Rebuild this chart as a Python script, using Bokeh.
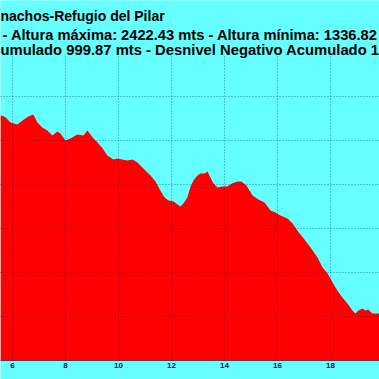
from bokeh.plotting import figure
from bokeh.models import Range1d, Label, Grid, SingleIntervalTicker, ColumnDataSource, BoxAnnotation
from bokeh.embed import file_html
from bokeh.resources import INLINE

# Distance (km) and elevation (m) read from the visible part of the profile
km = [5.55, 5.74, 5.93, 6.19, 6.38, 6.60, 6.79, 6.94, 7.13, 7.32, 7.51, 7.70, 7.81,
      8.00, 8.19, 8.45, 8.68, 8.83, 9.02, 9.21, 9.40, 9.58, 9.81, 9.96, 10.15, 10.34,
      10.53, 10.72, 10.94, 11.21, 11.40, 11.58, 11.74, 11.89, 12.08, 12.23, 12.34,
      12.45, 12.60, 12.72, 12.83, 12.98, 13.09, 13.25, 13.36, 13.47, 13.58, 13.74,
      13.92, 14.11, 14.30, 14.49, 14.64, 14.83, 15.06, 15.28, 15.51, 15.74, 15.92,
      16.11, 16.38, 16.57, 16.75, 16.98, 17.25, 17.51, 17.70, 17.89, 18.08, 18.26,
      18.45, 18.64, 18.83, 18.94, 19.06, 19.21, 19.32, 19.43, 19.58, 19.70, 19.85, 20.00]
elev = [2314, 2305, 2282, 2273, 2291, 2309, 2318, 2282, 2259, 2245, 2223, 2241, 2232,
        2200, 2209, 2227, 2223, 2245, 2214, 2191, 2164, 2132, 2114, 2118, 2114, 2109,
        2114, 2100, 2073, 2041, 2014, 1973, 1941, 1927, 1923, 1909, 1900,
        1914, 1941, 1991, 2018, 2041, 2050, 2050, 2059, 2032, 2005, 1986,
        1991, 1991, 2005, 2014, 2014, 1995, 1950, 1932, 1918, 1882, 1873,
        1859, 1845, 1823, 1791, 1755, 1714, 1668, 1623, 1595, 1555, 1518,
        1486, 1459, 1427, 1414, 1427, 1436, 1427, 1432, 1414, 1414, 1414, 1409]

title_lines = [
    "nachos-Refugio del Pilar",
    "- Altura máxima: 2422.43 mts - Altura mínima: 1336.82",
    "umulado 999.87 mts - Desnivel Negativo Acumulado 1",
]

BG = "#66FFFF"
src = ColumnDataSource(dict(km=km, elev=elev))

p = figure(width=379, height=379, output_backend="svg", toolbar_location=None,
           x_range=Range1d(5.55, 19.85), y_range=Range1d(1200, 2836),
           y_axis_location=None, min_border_left=0, min_border_right=0,
           min_border_top=0, min_border_bottom=19)
p.background_fill_color = BG
p.border_fill_color = BG
p.outline_line_color = None

p.varea(x="km", y1=0, y2="elev", source=src, fill_color="#FF0000")

# x axis
ax = p.xaxis[0]
ax.ticker = SingleIntervalTicker(interval=2)
ax.major_tick_out = 0
ax.major_tick_in = 0
ax.minor_tick_out = 0
ax.minor_tick_in = 0
ax.major_label_standoff = 2
ax.major_label_text_font = "Liberation Sans"
ax.major_label_text_font_style = "bold"
ax.major_label_text_font_size = "8px"
ax.major_label_text_color = "#102040"
ax.axis_line_color = "#402060"
ax.axis_line_alpha = 0.8

p.xgrid.ticker = SingleIntervalTicker(interval=2)
p.xgrid.grid_line_color = "#000080"
p.xgrid.grid_line_alpha = 0.5
p.xgrid.grid_line_dash = "1 2"
p.xgrid.level = "overlay"
for g in list(p.ygrid):
    g.visible = False

yg = Grid(dimension=1, ticker=SingleIntervalTicker(interval=200),
          grid_line_color="#000080", grid_line_alpha=0.5, grid_line_dash="1 2",
          level="overlay")
p.add_layout(yg)

# title band above the plotting area
p.add_layout(BoxAnnotation(bottom=2591, fill_color=BG, fill_alpha=1.0,
                           line_color=None, level="overlay"))

ys = [345, 326, 311]
xs = [0, 2, 0]
sizes = ["14px", "14.7px", "14.8px"]
for t, x, y, s in zip(title_lines, xs, ys, sizes):
    p.add_layout(Label(x=x, y=y, x_units="screen", y_units="screen", text=t,
                       text_font="Liberation Sans", text_font_style="bold",
                       text_font_size=s, text_color="#000000",
                       text_baseline="alphabetic", text_align="left",
                       level="overlay"))

open("out.html", "w").write(file_html(p, INLINE))
